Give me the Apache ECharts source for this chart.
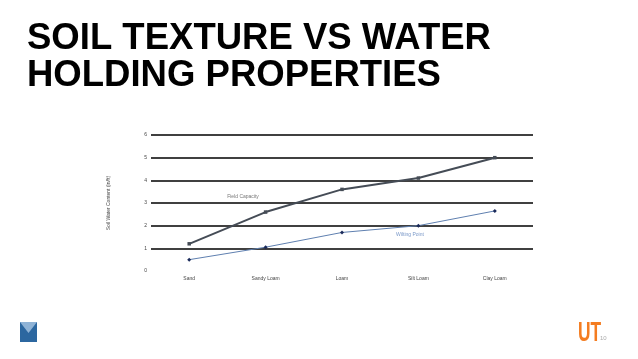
<!DOCTYPE html>
<html><head><meta charset="utf-8">
<script src="https://cdn.jsdelivr.net/npm/echarts@6/dist/echarts.min.js"></script>
<style>html,body{margin:0;padding:0;background:#fff}#c{width:638px;height:359px}</style>
</head><body><div id="c"></div>
<script>
var categories = ['Sand', 'Sandy Loam', 'Loam', 'Silt Loam', 'Clay Loam'];
var fieldCapacity = [1.2, 2.6, 3.6, 4.1, 5.0];
var wiltingPoint = [0.5, 1.05, 1.7, 2.0, 2.65];
var yTicks = [0, 1, 2, 3, 4, 5, 6];

var chart = echarts.init(document.getElementById('c'), null, {renderer: 'canvas'});
var labelCfg = function (text, color, px, py) {
  return {
    symbol: 'circle', symbolSize: 1, itemStyle: {color: 'rgba(0,0,0,0)'},
    label: {show: true, position: 'inside', formatter: text, fontSize: 5, color: color, fontFamily: 'Liberation Sans'},
    data: [{x: px, y: py}]
  };
};
chart.setOption({
  animation: false,
  backgroundColor: '#fff',
  grid: {left: 151, right: 105, top: 135, bottom: 88, containLabel: false},
  xAxis: {
    type: 'category', data: categories, boundaryGap: true,
    axisLine: {show: false}, axisTick: {show: false},
    axisLabel: {fontSize: 5, color: '#444', fontFamily: 'Liberation Sans', margin: 5}
  },
  yAxis: {
    type: 'value', min: yTicks[0], max: yTicks[yTicks.length - 1], interval: 1,
    name: 'Soil Water Content (in/ft)', nameLocation: 'middle', nameGap: 40, nameRotate: 90,
    nameTextStyle: {fontSize: 5, color: '#444', fontFamily: 'Liberation Sans'},
    axisLine: {show: false}, axisTick: {show: false},
    axisLabel: {fontSize: 5, color: '#444', fontFamily: 'Liberation Sans', margin: 4},
    splitLine: {show: true, lineStyle: {color: '#000', width: 1.5}, showMinLine: false}
  },
  series: [
    {name: 'Field Capacity', type: 'line', data: fieldCapacity,
     lineStyle: {color: '#454c56', width: 2}, itemStyle: {color: '#454c56'},
     symbol: 'rect', symbolSize: 3.5,
     markPoint: labelCfg('Field Capacity', '#777', 243, 197)},
    {name: 'Wilting Point', type: 'line', data: wiltingPoint,
     lineStyle: {color: '#5f80b0', width: 1}, itemStyle: {color: '#1a2a5a'},
     symbol: 'diamond', symbolSize: 4,
     markPoint: labelCfg('Wilting Point', '#7a98c8', 410, 235)}
  ],
  graphic: [
    {type: 'text', x: 27, y: 20, scaleX: 0.987, style: {text: 'SOIL TEXTURE VS WATER\nHOLDING PROPERTIES', font: 'bold 37px "Liberation Sans"', fill: '#000', lineHeight: 37.5}},
    {type: 'rect', shape: {x: 20, y: 322, width: 17, height: 20}, style: {fill: '#2c67a0'}},
    {type: 'polygon', shape: {points: [[20,322],[37,322],[28.5,333]]}, style: {fill: '#8fb3d6'}},
    {type: 'text', x: 578, y: 319, scaleX: 0.62, style: {text: 'UT', font: 'bold 28px "Liberation Sans"', fill: '#f47c20'}},
    {type: 'text', left: 600, top: 335, style: {text: '10', font: '6px "Liberation Sans"', fill: '#aaa'}}
  ]
});
</script></body></html>
